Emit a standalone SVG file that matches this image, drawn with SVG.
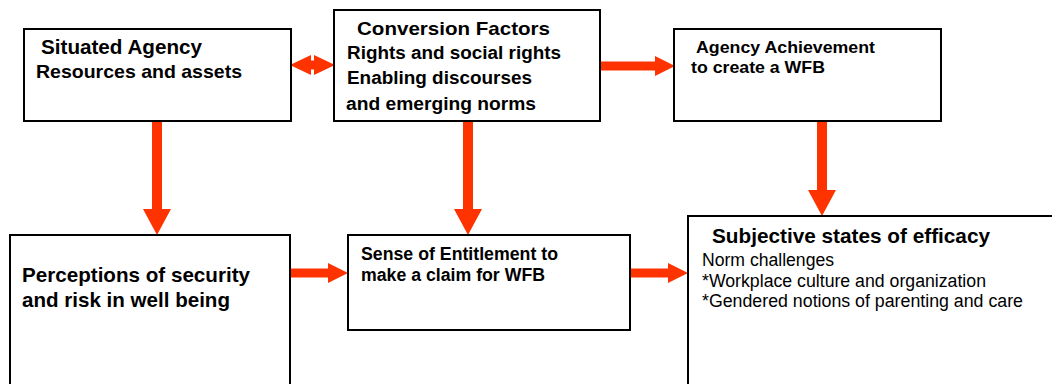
<svg xmlns="http://www.w3.org/2000/svg" width="1052" height="384" viewBox="0 0 1052 384">
<style>
.box{fill:#fff;stroke:#000;stroke-width:2}
.t{font-family:"Liberation Sans",Arial,sans-serif;fill:#000}
.b{font-weight:bold}
.conn{stroke:#FF3300;fill:none}
.v{stroke-width:10}
.h{stroke-width:9}
</style>
<defs>
<marker id="vhead" markerUnits="userSpaceOnUse" markerWidth="26" markerHeight="28" refX="0" refY="14" orient="auto"><path d="M0,0 L26,14 L0,28 Z" fill="#FF3300"/></marker>
<marker id="hhead" markerUnits="userSpaceOnUse" markerWidth="20" markerHeight="20" refX="0" refY="10" orient="auto"><path d="M0,0 L20,10 L0,20 Z" fill="#FF3300"/></marker>
<marker id="dhead" markerUnits="userSpaceOnUse" markerWidth="21" markerHeight="20" refX="0" refY="10" orient="auto-start-reverse"><path d="M0,0 L21,10 L0,20 Z" fill="#FF3300"/></marker>
</defs>
<rect width="1052" height="384" fill="#fff"/>

<g id="connectors">
<line class="conn h" x1="311" y1="65" x2="314" y2="65" marker-start="url(#dhead)" marker-end="url(#dhead)"/>
<line class="conn h" x1="600" y1="66" x2="655" y2="66" marker-end="url(#hhead)"/>
<line class="conn v" x1="157" y1="122" x2="157" y2="209" marker-end="url(#vhead)"/>
<line class="conn v" x1="468" y1="122" x2="468" y2="209" marker-end="url(#vhead)"/>
<line class="conn v" x1="822" y1="122" x2="822" y2="190" marker-end="url(#vhead)"/>
<line class="conn h" x1="290" y1="273" x2="328" y2="273" marker-end="url(#hhead)"/>
<line class="conn h" x1="630" y1="273" x2="668" y2="273" marker-end="url(#hhead)"/>
</g>

<g id="situated-agency">
<rect class="box" x="24" y="29" width="267" height="92"/>
<text class="t b" x="41" y="54" font-size="20" textLength="161" lengthAdjust="spacingAndGlyphs">Situated Agency</text>
<text class="t b" x="36" y="78" font-size="19" textLength="206" lengthAdjust="spacingAndGlyphs">Resources and assets</text>
</g>

<g id="conversion-factors">
<rect class="box" x="334" y="10" width="266" height="111"/>
<text class="t b" x="357" y="35" font-size="19" textLength="193" lengthAdjust="spacingAndGlyphs">Conversion Factors</text>
<text class="t b" x="347" y="59" font-size="18" textLength="214" lengthAdjust="spacingAndGlyphs">Rights and social rights</text>
<text class="t b" x="347" y="84" font-size="18" textLength="185" lengthAdjust="spacingAndGlyphs">Enabling discourses</text>
<text class="t b" x="346" y="110" font-size="18" textLength="190" lengthAdjust="spacingAndGlyphs">and emerging norms</text>
</g>

<g id="agency-achievement">
<rect class="box" x="674" y="29" width="267" height="92"/>
<text class="t b" x="696" y="53" font-size="17" textLength="179" lengthAdjust="spacingAndGlyphs">Agency Achievement</text>
<text class="t b" x="691" y="73" font-size="17" textLength="134" lengthAdjust="spacingAndGlyphs">to create a WFB</text>
</g>

<g id="perceptions">
<rect class="box" x="10" y="235" width="280" height="200"/>
<text class="t b" x="22" y="282" font-size="21" textLength="228" lengthAdjust="spacingAndGlyphs">Perceptions of security</text>
<text class="t b" x="22" y="307" font-size="21" textLength="208" lengthAdjust="spacingAndGlyphs">and risk in well being</text>
</g>

<g id="sense-of-entitlement">
<rect class="box" x="348" y="235" width="282" height="95"/>
<text class="t b" x="361" y="260" font-size="18" textLength="197" lengthAdjust="spacingAndGlyphs">Sense of Entitlement to</text>
<text class="t b" x="361" y="281" font-size="18" textLength="184" lengthAdjust="spacingAndGlyphs">make a claim for WFB</text>
</g>

<g id="subjective-states">
<rect class="box" x="688" y="216" width="400" height="200"/>
<text class="t b" x="712" y="243" font-size="21" textLength="278" lengthAdjust="spacingAndGlyphs">Subjective states of efficacy</text>
<text class="t" x="702" y="266" font-size="18" textLength="132" lengthAdjust="spacingAndGlyphs">Norm challenges</text>
<text class="t" x="702" y="287" font-size="18" textLength="284" lengthAdjust="spacingAndGlyphs">*Workplace culture and organization</text>
<text class="t" x="702" y="307" font-size="18" textLength="321" lengthAdjust="spacingAndGlyphs">*Gendered notions of parenting and care</text>
</g>
</svg>
